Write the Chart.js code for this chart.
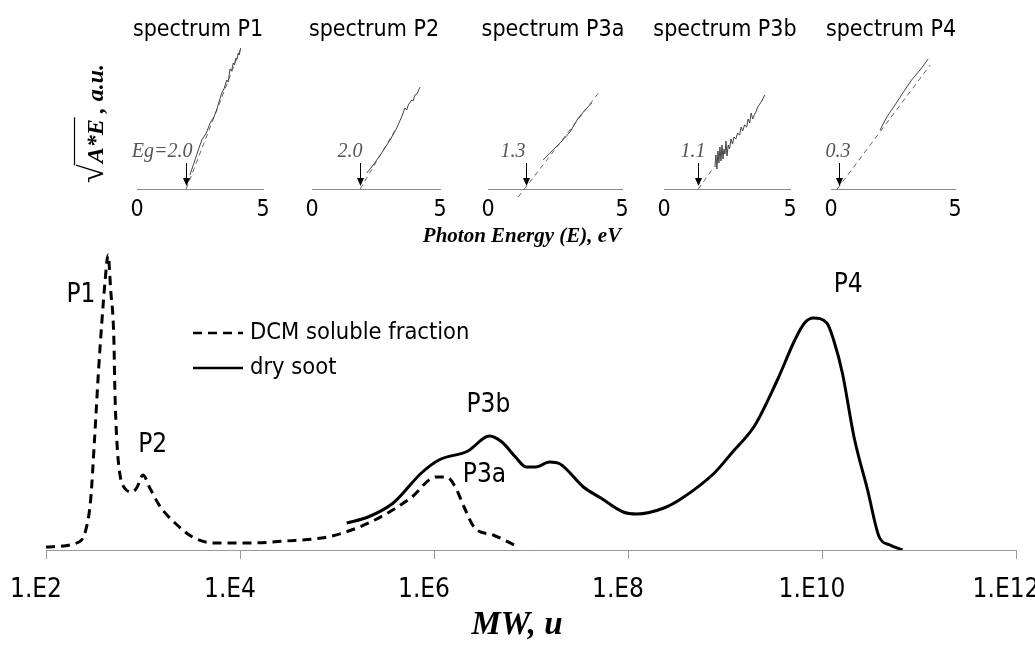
<!DOCTYPE html>
<html>
<head>
<meta charset="utf-8">
<script src="https://cdn.jsdelivr.net/npm/chart.js@4.4.0/dist/chart.umd.min.js"></script>
<style>
  body { margin: 0; background: #fff; overflow: hidden; }
  #wrap { position: relative; width: 1035px; height: 645px; }
  canvas { position: absolute; top: 0; }
</style>
</head>
<body>
<div id="wrap">
  <canvas id="chart_mw" width="1035" height="645" style="left:0"></canvas>
</div>
<script>
const SANS = '"DejaVu Sans Condensed", "DejaVu Sans", sans-serif';
const SERIF = '"Liberation Serif", "DejaVu Serif", serif';

// main chart: log10(MW) and signal (a.u.)
const dcmLogMW = [2.00, 2.34, 2.41, 2.46, 2.50, 2.54, 2.575, 2.61, 2.64, 2.667, 2.70, 2.71, 2.73, 2.76, 2.81, 2.89, 2.94, 3.00, 3.07, 3.18, 3.33, 3.51, 3.73, 4.10, 4.47, 4.84, 5.06, 5.39, 5.76, 6.02, 6.13, 6.22, 6.31, 6.42, 6.61, 6.85];
const dcmSignal = [3, 8, 20, 50, 110, 177, 227, 270, 295, 260, 210, 160, 110, 77, 62, 58, 63, 75, 62, 43, 27, 13, 7, 7, 9, 12, 17, 30, 52, 73, 73, 63, 43, 22, 15, 4];
const sootLogMW = [5.10, 5.32, 5.58, 5.87, 6.05, 6.35, 6.57, 6.70, 6.84, 6.95, 7.05, 7.19, 7.30, 7.54, 7.72, 7.95, 8.09, 8.37, 8.56, 8.89, 9.07, 9.31, 9.54, 9.72, 9.82, 9.91, 10.05, 10.12, 10.21, 10.33, 10.47, 10.59, 10.70, 10.83];
const sootSignal = [27, 33, 47, 77, 90, 99, 114, 108, 93, 83, 83, 88, 86, 63, 52, 38, 36, 42, 52, 77, 97, 125, 170, 210, 227, 232, 227, 210, 177, 113, 60, 13, 5, 0];
const mwTicks = [1e2, 1e4, 1e6, 1e8, 1e10, 1e12];
const mwTickLabels = ['1.E2', '1.E4', '1.E6', '1.E8', '1.E10', '1.E12'];
const peakNames = ['P1', 'P2', 'P3b', 'P3a', 'P4'];
const peakLogMW = [2.36, 3.10, 6.56, 6.52, 10.27];
const peakLevel = [255, 105, 145, 75, 265];

// small spectra: photon energy (eV) and sqrt(A*E) (a.u.)
const spectrumNames = ['spectrum P1', 'spectrum P2', 'spectrum P3a', 'spectrum P3b', 'spectrum P4'];
const specE = [
  [2.10, 2.30, 2.57, 2.75, 2.90, 3.05, 3.16, 3.36, 3.45, 3.56, 3.62, 3.69, 3.75, 3.82, 3.86, 3.93, 3.97, 4.02, 4.06, 4.11],
  [2.14, 2.39, 2.72, 3.05, 3.31, 3.50, 3.63, 3.70, 3.76, 3.89, 3.95, 4.02, 4.10, 4.22],
  [2.06, 2.31, 2.69, 3.06, 3.37, 3.62, 3.87],
  [2.02, 2.06, 2.10, 2.14, 2.18, 2.22, 2.26, 2.30, 2.34, 2.38, 2.42, 2.46, 2.50, 2.55, 2.60, 2.66, 2.72, 2.78, 2.85, 2.92, 3.00, 3.06, 3.12, 3.20, 3.28, 3.34, 3.40, 3.46, 3.52, 3.58, 3.65, 3.72, 3.80, 3.88, 4.00],
  [1.98, 2.25, 2.58, 2.92, 3.25, 3.59, 3.92]
];
const specY = [
  [14, 29, 49, 56, 66, 72, 79, 96, 100, 109, 107, 120, 118, 126, 124, 131, 130, 136, 134, 141],
  [16, 24, 36, 49, 61, 72, 81, 79, 84, 89, 88, 94, 95, 102],
  [29, 36, 46, 57, 71, 79, 86],
  [22, 34, 20, 38, 26, 42, 28, 44, 30, 40, 35, 48, 33, 44, 40, 50, 45, 52, 50, 56, 54, 62, 58, 64, 62, 70, 66, 76, 70, 74, 77, 82, 85, 88, 94],
  [59, 72, 84, 97, 109, 119, 130]
];
const fitE = [[1.95, 4.14], [1.88, 3.30], [1.13, 4.15], [1.36, 1.98], [0.25, 4.00]];
const fitY = [[0, 142], [0, 61], [-8, 97], [0, 22], [0, 124]];
const egArrow = [1.93, 1.88, 1.42, 1.36, 0.34];
const egLabels = ['Eg=2.0', '2.0', '1.3', '1.1', '0.3'];
const energyTicks = [0, 5];

function pts(xs, ys, f) {
    return xs.map((v, i) => ({ x: f ? f(v) : v, y: ys[i] }));
}

const mwDecor = {
    id: 'mwDecor',
    afterDatasetsDraw(chart) {
        const { ctx, scales: { x, y } } = chart;
        ctx.save();
        ctx.fillStyle = '#000';
        ctx.strokeStyle = '#000';
        ctx.textBaseline = 'middle';

        // peak names
        ctx.font = '26px ' + SANS;
        ctx.textAlign = 'center';
        peakNames.forEach((n, i) => {
            ctx.fillText(n, x.getPixelForValue(Math.pow(10, peakLogMW[i])), y.getPixelForValue(peakLevel[i]));
        });

        // legend
        ctx.font = '23.5px ' + SANS;
        ctx.textAlign = 'left';
        chart.data.datasets.forEach((ds, i) => {
            const ly = 333 + i * 35;
            ctx.lineWidth = 2.5;
            ctx.setLineDash(ds.borderDash || []);
            ctx.beginPath();
            ctx.moveTo(193, ly);
            ctx.lineTo(243, ly);
            ctx.stroke();
            ctx.setLineDash([]);
            ctx.fillText(ds.label, 250, ly);
        });

        // x title of the main chart
        ctx.font = 'italic bold 33px ' + SERIF;
        ctx.textAlign = 'center';
        ctx.fillText('MW, u', 517, 625);

        // shared x title of the spectra
        ctx.font = 'italic bold 21px ' + SERIF;
        ctx.fillText('Photon Energy (E), eV', 522, 237);

        // shared y title of the spectra
        ctx.translate(103, 183);
        ctx.rotate(-Math.PI / 2);
        ctx.textAlign = 'left';
        ctx.textBaseline = 'alphabetic';
        ctx.font = '34px ' + SERIF;
        ctx.fillText('√', 0, 0);
        const cx = ctx.measureText('√').width;
        ctx.font = 'italic bold 24px ' + SERIF;
        const w1 = ctx.measureText('A*E').width;
        ctx.fillText('A*E', cx + 1, 0);
        ctx.lineWidth = 1.2;
        ctx.beginPath();
        ctx.moveTo(cx - 1, -28.5);
        ctx.lineTo(cx + w1 + 3, -28.5);
        ctx.stroke();
        ctx.fillText(' , a.u.', cx + w1 + 1, 0);
        ctx.restore();
    }
};

new Chart(document.getElementById('chart_mw'), {
    type: 'line',
    data: {
        datasets: [{
            label: 'DCM soluble fraction',
            data: pts(dcmLogMW, dcmSignal, v => Math.pow(10, v)),
            borderColor: '#000',
            borderWidth: 3,
            borderDash: [9, 6],
            pointRadius: 0,
            cubicInterpolationMode: 'monotone'
        }, {
            label: 'dry soot',
            data: pts(sootLogMW, sootSignal, v => Math.pow(10, v)),
            borderColor: '#000',
            borderWidth: 3,
            pointRadius: 0,
            cubicInterpolationMode: 'monotone'
        }]
    },
    options: {
        responsive: false,
        animation: false,
        events: [],
        layout: { padding: { left: 46, right: 19, top: 250, bottom: 0 } },
        plugins: { legend: { display: false }, tooltip: { enabled: false } },
        scales: {
            x: {
                type: 'logarithmic',
                min: 1e2,
                max: 1e12,
                afterBuildTicks: s => { s.ticks = mwTicks.map(v => ({ value: v })); },
                afterFit: s => { s.height = 95; s.paddingLeft = 0; s.paddingRight = 0; },
                ticks: {
                    callback: (v, i) => mwTickLabels[i],
                    font: { family: SANS, size: 26 },
                    color: '#000',
                    padding: 16,
                    maxRotation: 0,
                    autoSkip: false,
                    labelOffset: -10
                },
                grid: { drawOnChartArea: false, drawTicks: true, tickLength: 9, color: '#999' },
                border: { color: '#999' }
            },
            y: { display: false, min: 0, max: 300 }
        }
    },
    plugins: [mwDecor]
});

// inset spectra
const insetLeft = [137, 312, 488, 664, 831];
const insetRight = [263, 440, 622, 790, 955];
const egLabelDx = [6, 2, -1, 7, 11];

function insetPlugin(k) {
    return {
        id: 'inset' + k,
        afterDatasetsDraw(chart) {
            const { ctx, chartArea, scales: { x, y } } = chart;
            const px = Math.round(x.getPixelForValue(egArrow[k])) + 0.5;
            const top = y.getPixelForValue(26);
            const tip = y.getPixelForValue(3);
            ctx.save();
            // spectrum name
            ctx.fillStyle = '#000';
            ctx.font = '23px ' + SANS;
            ctx.textAlign = 'center';
            ctx.textBaseline = 'middle';
            ctx.fillText(spectrumNames[k], (chartArea.left + chartArea.right) / 2 - 2, 30);
            // Eg arrow
            ctx.strokeStyle = '#000';
            ctx.lineWidth = 1;
            ctx.beginPath();
            ctx.moveTo(px, top);
            ctx.lineTo(px, tip - 6);
            ctx.stroke();
            ctx.beginPath();
            ctx.moveTo(px - 3.5, tip - 8);
            ctx.lineTo(px + 3.5, tip - 8);
            ctx.lineTo(px, tip);
            ctx.closePath();
            ctx.fill();
            ctx.font = 'italic 20px ' + SERIF;
            ctx.fillStyle = '#555';
            ctx.textAlign = 'right';
            ctx.fillText(egLabels[k], px + egLabelDx[k], y.getPixelForValue(37));
            ctx.restore();
        }
    };
}

spectrumNames.forEach((name, k) => {
    const cv = document.createElement('canvas');
    const w = 180;
    cv.width = w;
    cv.height = 225;
    cv.style.left = (insetLeft[k] - 25) + 'px';
    document.getElementById('wrap').appendChild(cv);

    new Chart(cv, {
        type: 'line',
        data: {
            datasets: [{
                data: pts(specE[k], specY[k]),
                borderColor: '#444',
                borderWidth: 1,
                pointRadius: 0,
                tension: 0
            }, {
                data: pts(fitE[k], fitY[k]),
                borderColor: '#666',
                borderWidth: 1,
                borderDash: [5, 4],
                pointRadius: 0,
                clip: false
            }]
        },
        options: {
            responsive: false,
            animation: false,
            events: [],
            layout: { padding: { left: 25, right: w - 25 - (insetRight[k] - insetLeft[k]), top: 44, bottom: 0 } },
            plugins: { legend: { display: false }, tooltip: { enabled: false } },
            scales: {
                x: {
                    type: 'linear',
                    min: 0,
                    max: 5,
                    afterBuildTicks: s => { s.ticks = energyTicks.map(v => ({ value: v })); },
                    afterFit: s => { s.height = 36; s.paddingLeft = 0; s.paddingRight = 0; },
                    ticks: { font: { family: SANS, size: 23 }, color: '#000', padding: 7, maxRotation: 0 },
                    grid: { drawOnChartArea: false, drawTicks: false },
                    border: { color: '#888' }
                },
                y: { display: false, min: 0, max: 145 }
            }
        },
        plugins: [insetPlugin(k)]
    });
});
</script>
</body>
</html>
